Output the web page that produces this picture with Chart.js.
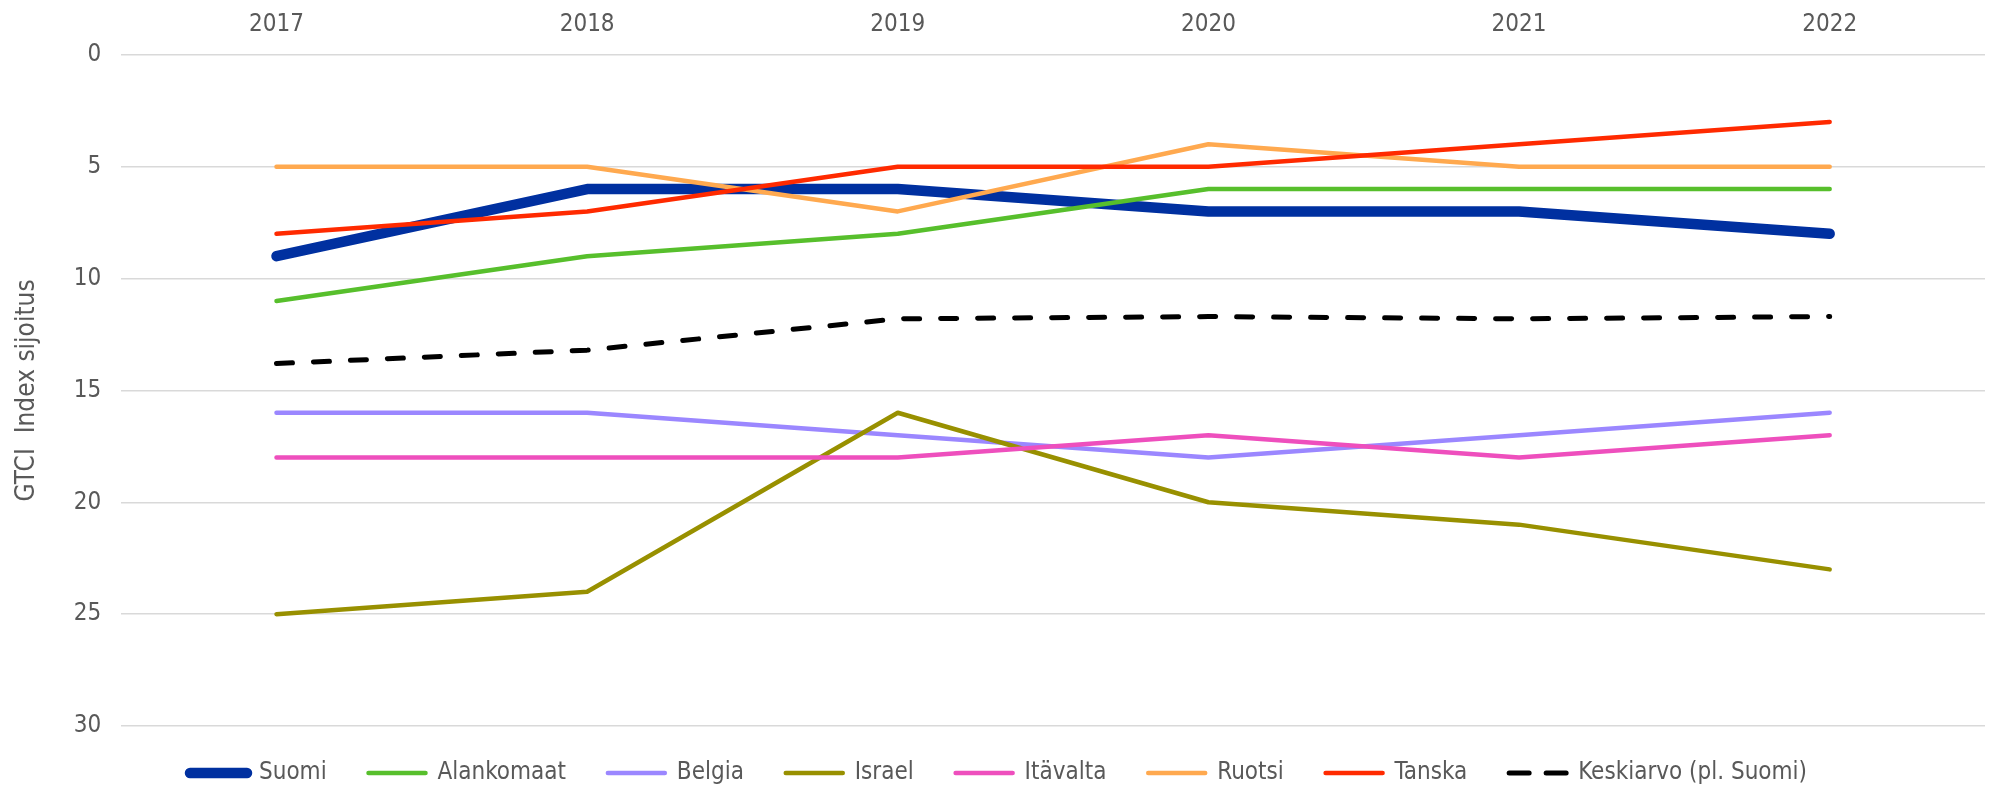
<!DOCTYPE html>
<html>
<head>
<meta charset="utf-8">
<script src="https://cdn.jsdelivr.net/npm/chart.js@4"></script>
<style>
  html, body { margin: 0; padding: 0; background: #fff; }
  #wrap { width: 1992px; height: 787px; }
</style>
</head>
<body>
<div id="wrap"><canvas id="myChart" width="1992" height="787"></canvas></div>
<script>
// vuodet (x-akseli ylhäällä)
const years = ['2017', '2018', '2019', '2020', '2021', '2022'];

// sijoitukset, luettu kuvasta
const suomi      = [9, 6, 6, 7, 7, 8];
const alankomaat = [11, 9, 8, 6, 6, 6];
const belgia     = [16, 16, 17, 18, 17, 16];
const israel     = [25, 24, 16, 20, 21, 23];
const itavalta   = [18, 18, 18, 17, 18, 17];
const ruotsi     = [5, 5, 7, 4, 5, 5];
const tanska     = [8, 7, 5, 5, 4, 3];
const keskiarvo  = [13.8, 13.2, 11.8, 11.7, 11.8, 11.7];

const yTicks = [0, 5, 10, 15, 20, 25, 30];

const FONT = "'DejaVu Sans Condensed', 'DejaVu Sans', sans-serif";
const TEXT = '#595959';

function line(label, data, color, width, dash) {
    return {
        label: label,
        data: data,
        borderColor: color,
        backgroundColor: color,
        borderWidth: width,
        borderDash: dash || [],
        borderCapStyle: 'round',
        borderJoinStyle: 'round',
        pointRadius: 0,
        pointHoverRadius: 0,
        tension: 0,
        fill: false
    };
}

// piirtojärjestys: viimeinen piirretään ensin -> Suomi alimmaksi
const series = [
    line('Suomi', suomi, '#0030a0', 10.5),
    line('Alankomaat', alankomaat, '#57bf2c', 4.5),
    line('Belgia', belgia, '#9b87ff', 4.5),
    line('Israel', israel, '#989000', 4.5),
    line('Itävalta', itavalta, '#ee4fbd', 4.5),
    line('Ruotsi', ruotsi, '#ffa94f', 4.5),
    line('Tanska', tanska, '#ff2a00', 4.5),
    line('Keskiarvo (pl. Suomi)', keskiarvo, '#000000', 5, [16, 21])
];

// selitteen viivat: leveys, katkoviiva ja pyöreät päät datasetistä
function legendLabels(chart) {
    const items = Chart.defaults.plugins.legend.labels.generateLabels(chart);
    items.forEach(it => {
        const ds = chart.data.datasets[it.datasetIndex];
        it.strokeStyle = ds.borderColor;
        it.lineWidth = ds.borderWidth;
        it.lineCap = 'round';
        it.lineDash = ds.borderDash.length ? [20, 17] : [];
        // väli seuraavaan selitteeseen (ei viimeiselle)
        if (it.datasetIndex !== 0) it.text = it.text + ' ';
    });
    return items;
}

const ctx = document.getElementById('myChart').getContext('2d');
const myChart = new Chart(ctx, {
    type: 'line',
    data: {
        labels: years,
        datasets: series.slice().reverse()
    },
    options: {
        responsive: false,
        animation: false,
        layout: {
            padding: { left: 12, right: 7, top: -6, bottom: -8 }
        },
        plugins: {
            tooltip: { enabled: false },
            legend: {
                position: 'bottom',
                reverse: true,
                labels: {
                    usePointStyle: true,
                    pointStyle: 'line',
                    pointStyleWidth: 57,
                    padding: 35,
                    color: TEXT,
                    font: { family: FONT, size: 24 },
                    generateLabels: legendLabels
                }
            }
        },
        scales: {
            x: {
                position: 'top',
                offset: true,
                grid: { display: false, drawTicks: false },
                border: { display: false },
                ticks: {
                    color: TEXT,
                    padding: 16,
                    font: { family: FONT, size: 24 }
                }
            },
            y: {
                reverse: true,
                min: 0,
                max: 30,
                afterBuildTicks: (axis) => {
                    axis.ticks = yTicks.map(v => ({ value: v }));
                },
                grid: {
                    color: '#d9d9d9',
                    lineWidth: 1.5,
                    drawTicks: false
                },
                border: { display: false },
                ticks: {
                    color: TEXT,
                    padding: 20,
                    font: { family: FONT, size: 24 }
                },
                title: {
                    display: true,
                    text: 'GTCI  Index sijoitus',
                    color: TEXT,
                    padding: { top: 0, bottom: 10.5 },
                    font: { family: FONT, size: 26 }
                }
            }
        }
    }
});
</script>
</body>
</html>
